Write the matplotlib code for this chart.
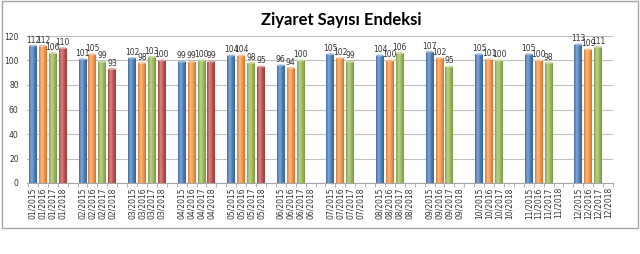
import matplotlib
matplotlib.use("Agg")
import matplotlib.pyplot as plt
import numpy as np
from matplotlib.patches import Rectangle

months = ["01", "02", "03", "04", "05", "06", "07", "08", "09", "10", "11", "12"]
years = ["2015", "2016", "2017", "2018"]
v2015 = [112, 101, 102, 99, 104, 96, 105, 104, 107, 105, 105, 113]
v2016 = [112, 105, 98, 99, 104, 94, 102, 100, 102, 101, 100, 109]
v2017 = [106, 99, 103, 100, 98, 100, 99, 106, 95, 100, 98, 111]
v2018 = [110, 93, 100, 99, 95, None, None, None, None, None, None, None]
series = [v2015, v2016, v2017, v2018]
colors = ["#4A7EBB", "#F79646", "#9BBB59", "#C0504D"]
title = "Ziyaret Sayısı Endeksi"

W, H = 640, 254
fig = plt.figure(figsize=(W / 100, H / 100), dpi=100)
fig.patches.append(Rectangle((2 / W, (H - 228) / H), 636 / W, 227 / H,
                             transform=fig.transFigure, fill=False,
                             edgecolor="#A6A6A6", linewidth=1.0))
ax = fig.add_axes([27 / W, (H - 183) / H, (613 - 27) / W, (183 - 36) / H])

slot = 5
bw = 0.8
positions, labels = [], []
for g, m in enumerate(months):
    for s, y in enumerate(years):
        positions.append(g * slot + s)
        labels.append(f"{m}/{y}")

def lighten(c, f):
    r = np.array(matplotlib.colors.to_rgb(c))
    return tuple(r + (1 - r) * f)

def darken(c, f):
    r = np.array(matplotlib.colors.to_rgb(c))
    return tuple(r * (1 - f))

for s, (vals, col) in enumerate(zip(series, colors)):
    xs = [g * slot + s for g, v in enumerate(vals) if v is not None]
    ys = [v for v in vals if v is not None]
    bars = ax.bar(xs, ys, width=bw, color=col, edgecolor="none", zorder=3)
    cmap = matplotlib.colors.LinearSegmentedColormap.from_list(
        "c", [darken(col, 0.15), lighten(col, 0.35), col, darken(col, 0.2)])
    grad = np.linspace(0, 1, 32).reshape(1, -1)
    for b, x, y in zip(bars, xs, ys):
        im = ax.imshow(grad, extent=(x - bw / 2, x + bw / 2, 0, y), aspect="auto",
                       cmap=cmap, zorder=3.5, interpolation="bicubic")
        im.set_clip_path(b)
        ax.add_patch(matplotlib.patches.Ellipse((x, y), bw, 1.6, facecolor=lighten(col, 0.45),
                                                edgecolor="none", zorder=4))
        ax.text(x, y + 1.0, str(y), ha="center", va="bottom", fontsize=5.5,
                color="#333333", zorder=5)

ax.set_xlim(-0.6, 58.5)
ax.set_ylim(0, 120)
ax.set_yticks(range(0, 121, 20))
ax.yaxis.grid(True, color="#BFBFBF", linewidth=0.8, zorder=0)
ax.set_axisbelow(True)
ax.set_xticks(positions)
ax.set_xticklabels(labels, rotation=90, fontsize=5.5, color="#333333")
ax.tick_params(axis="x", length=0, pad=3)
ax.set_xticks([p + 0.5 for p in range(-1, 59)], minor=True)
ax.tick_params(axis="x", which="minor", length=3, color="#A6A6A6", width=0.6)
ax.tick_params(axis="y", length=0, labelsize=5.5, labelcolor="#333333", pad=6)
for sp in ["top", "right", "left"]:
    ax.spines[sp].set_visible(False)
ax.spines["bottom"].set_color("#A6A6A6")
ax.spines["bottom"].set_linewidth(0.8)

fig.text(341 / W, (H - 20) / H, title, ha="center", va="center",
         fontsize=12, fontweight="bold", family="Lato", color="#000000")

fig.savefig("out.png", dpi=100)
